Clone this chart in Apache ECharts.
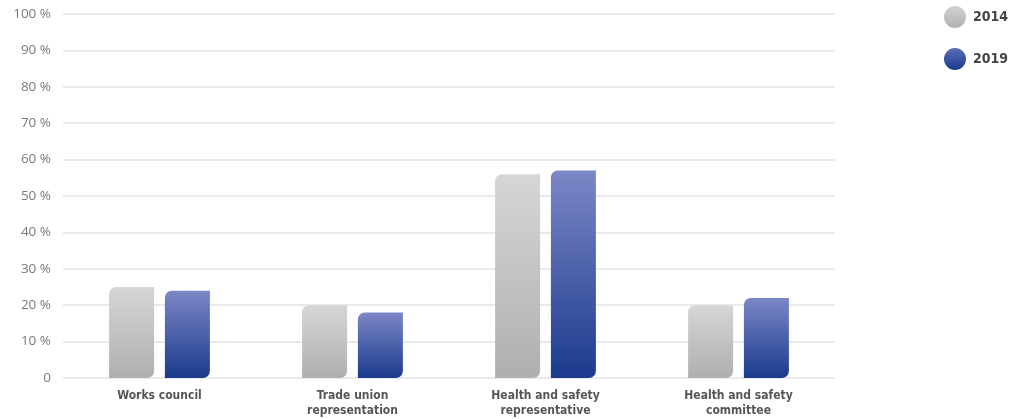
<!DOCTYPE html>
<html><head><meta charset="utf-8">
<script src="https://cdn.jsdelivr.net/npm/echarts@6/dist/echarts.min.js"></script>
<style>html,body{margin:0;padding:0;background:#fff}#c{width:1009px;height:419px}</style>
</head><body><div id="c"></div>
<script>
const categories = ['Works council', 'Trade union\nrepresentation', 'Health and safety\nrepresentative', 'Health and safety\ncommittee'];
const seriesNames = ['2014', '2019'];
const values2014 = [25, 20, 56, 20];
const values2019 = [24, 18, 57, 22];
const yTicks = [0, 10, 20, 30, 40, 50, 60, 70, 80, 90, 100];

const condFont = "'DejaVu Sans Condensed', 'Roboto', sans-serif";
const grayGrad = new echarts.graphic.LinearGradient(0, 0, 0, 1, [{offset: 0, color: '#d6d6d6'}, {offset: 1, color: '#afafaf'}]);
const blueGrad = new echarts.graphic.LinearGradient(0, 0, 0, 1, [{offset: 0, color: '#7c87c6'}, {offset: 1, color: '#1b3a8d'}]);
const grayLeg = new echarts.graphic.LinearGradient(0, 0, 0, 1, [{offset: 0, color: '#d2d2d2'}, {offset: 1, color: '#b2b2b2'}]);
const blueLeg = new echarts.graphic.LinearGradient(0, 0, 0, 1, [{offset: 0, color: '#5b6db8'}, {offset: 1, color: '#1b3a8d'}]);

const chart = echarts.init(document.getElementById('c'), null, {renderer: 'canvas'});
chart.setOption({
  animation: false,
  grid: {left: 63, right: 174, top: 14, bottom: 41, containLabel: false},
  legend: {
    orient: 'vertical', left: 944, top: 6, padding: 0, icon: 'circle', itemWidth: 22, itemHeight: 22, itemGap: 20,
    textStyle: {fontFamily: condFont, fontWeight: 'bold', fontSize: 14, color: '#444', padding: [0, 0, 0, 2]},
    data: [{name: seriesNames[0], itemStyle: {color: grayLeg}}, {name: seriesNames[1], itemStyle: {color: blueLeg}}]
  },
  xAxis: {
    type: 'category', data: categories,
    axisLine: {show: false}, axisTick: {show: false},
    axisLabel: {fontFamily: condFont, fontWeight: 'bold', fontSize: 12, color: '#555', lineHeight: 15, margin: 10}
  },
  yAxis: {
    type: 'value', min: 0, max: 100, interval: 10,
    axisLine: {show: false}, axisTick: {show: false},
    splitLine: {lineStyle: {color: '#e3e3e3', width: 1.5}},
    axisLabel: {fontFamily: 'Open Sans', fontSize: 13.5, color: '#7a7a7a', margin: 12,
      formatter: v => v === 0 ? '0' : v + ' %'}
  },
  series: [
    {name: seriesNames[0], type: 'bar', data: values2014, barWidth: 45, barGap: '24%',
     itemStyle: {color: grayGrad, borderRadius: [7, 0, 7, 0]}},
    {name: seriesNames[1], type: 'bar', data: values2019, barWidth: 45,
     itemStyle: {color: blueGrad, borderRadius: [7, 0, 7, 0]}}
  ]
});
</script></body></html>
